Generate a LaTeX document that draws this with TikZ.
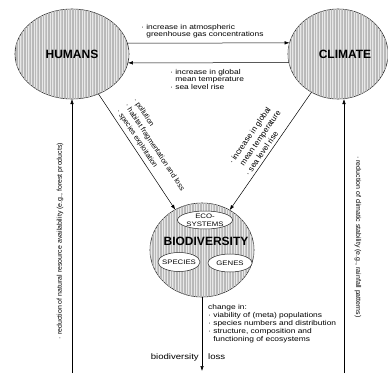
\documentclass[tikz,border=0pt]{standalone}
\usepackage{fontspec}
\setmainfont{Liberation Sans}
\newfontfamily\wide{Liberation Sans}[FakeStretch=1.2]
\usetikzlibrary{shapes.geometric,arrows.meta,patterns.meta}
\begin{document}
\begin{tikzpicture}[x=1pt,y=1pt,
  hatch/.style={draw=black!85, line width=0.6pt, fill=gray!18,
    postaction={pattern={Lines[angle=90,distance=1.6pt,line width=0.4pt]}, pattern color=gray!55}},
  bigcirc/.style={ellipse, hatch, inner sep=0pt, outer sep=0pt,
    font=\fontsize{12}{12}\selectfont\bfseries},
  bigtext/.style={inner sep=0pt, font=\fontsize{12}{12}\selectfont\bfseries},
  innerell/.style={ellipse, draw=black!85, fill=white, line width=0.5pt,
    inner xsep=-3pt, inner ysep=-1pt, outer sep=0pt,
    font=\wide\fontsize{6.5}{8}\selectfont, align=center},
  arr/.style={line width=0.5pt, -{Latex[length=5pt,width=3.5pt]}},
  lbl/.style={font=\wide\fontsize{7}{7.7}\selectfont, align=left, inner sep=0pt},
  vlbl/.style={font=\fontsize{7}{8}\selectfont, inner sep=0pt},
]
\useasboundingbox (0,0) rectangle (388,-373);

% main circles
\node[bigcirc, minimum width=114pt, minimum height=90pt] (H) at (72,-54) {HUMANS};
\node[bigcirc, minimum width=100pt, minimum height=90pt] (C) at (338,-54) {\hspace*{14pt}CLIMATE};
\node[bigcirc, minimum width=104pt, minimum height=94pt] (B) at (202,-250) {};
\node[bigtext] (Bt) at (206,-241) {BIODIVERSITY};
\node[innerell, minimum width=55pt, minimum height=18pt] (E) at (205,-220) {ECO-\\SYSTEMS};
\node[innerell, minimum width=42pt, minimum height=19pt] (S) at (179,-262) {SPECIES};
\node[innerell, minimum width=44pt, minimum height=18pt] (G) at (230,-263) {GENES};

% top arrows
\draw[arr] (H.11) -- (C.167);
\draw[arr] (C.190) -- (H.-9);
\node[lbl, anchor=north west] (t1) at (141,-24)
  {· increase in atmospheric\\\phantom{· }greenhouse gas concentrations};
\node[lbl, anchor=north west] (t2) at (170,-69)
  {· increase in global\\\phantom{· }mean temperature\\· sea level rise};

% diagonal arrows
\draw[arr] (H) -- node[sloped, pos=0.15, anchor=south west, inner sep=3.5pt,
    align=left, font=\fontsize{7.3}{10}\selectfont]
  {· pollution\\· habitat fragmentation and loss\\· species exploitation} (B);
\draw[arr] (C) -- node[sloped, pos=0.75, anchor=south west, inner sep=3pt,
    align=left, font=\fontsize{8}{10}\selectfont]
  {· increase in global\\\phantom{· }mean temperature\\· sea level rise} (B);

% vertical arrows
\coordinate (L0) at (72,-373);
\coordinate (R0) at (344,-373);
\coordinate (D0) at (202,-371);
\draw[arr] (L0) -- (H.south);
\draw[arr] (R0) -- (R0 |- C.south);
\draw[arr] (B.south) -- (D0);
\node[vlbl, rotate=90] (lt) at (60,-241)
  {· reduction of natural resource availability (e.g., forest products)};
\node[vlbl, rotate=-90] (rt) at (358,-237)
  {· reduction of climatic stability (e.g., rainfall patterns)};

% bottom labels
\node[lbl, anchor=north west, font=\wide\fontsize{7}{8}\selectfont] (ch) at (208,-304)
  {change in:\\· viability of (meta) populations\\· species numbers and distribution\\· structure, composition and\\\phantom{· }functioning of ecosystems};
\node[inner sep=0pt, anchor=base east, font=\wide\fontsize{8}{8}\selectfont] (bd) at (199,-359) {biodiversity};
\node[inner sep=0pt, anchor=base west, font=\wide\fontsize{8}{8}\selectfont] (ls) at (208,-359) {loss};
\end{tikzpicture}
\end{document}
